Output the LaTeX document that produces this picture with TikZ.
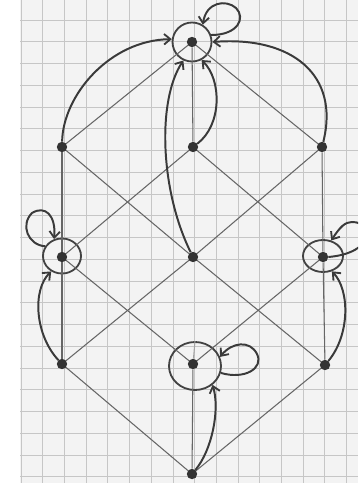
\documentclass[tikz,border=0pt]{standalone}
\usetikzlibrary{arrows.meta,shapes.geometric}
\definecolor{paperc}{HTML}{F3F3F3}
\definecolor{gridc}{HTML}{C6C6C6}
\definecolor{linec}{HTML}{666666}
\definecolor{arcc}{HTML}{3A3A3A}
\definecolor{dotc}{HTML}{333333}
\definecolor{ringc}{HTML}{424242}
\begin{document}
\begin{tikzpicture}[x=0.05cm,y=-0.05cm,
  dot/.style={circle,fill=dotc,inner sep=0pt,minimum size=0.52cm},
  ring/.style={draw=ringc,line width=2.6pt,inner sep=0pt},
  edgeline/.style={draw=linec,line width=1.5pt},
  curvearrow/.style={draw=arcc,line width=2.8pt,-{Straight Barb[length=9pt,width=15pt,line width=2.6pt]}},
  gridline/.style={draw=gridc,line width=0.9pt}]
\useasboundingbox (0,0) rectangle (358,483);
\clip (0,0) rectangle (358,483);
% paper and grid
\fill[white] (0,0) rectangle (358,483);
\fill[paperc] (20,0) rectangle (358,483);
\foreach \i in {0,...,15} \draw[gridline] ({21+21.7*\i},0) -- ({21+21.7*\i},483);
\foreach \j in {0,...,21} \draw[gridline] (20,{20+21.75*\j}) -- (358,{20+21.75*\j});
% rings
\node[ring,circle,minimum size=1.95cm] (Tr) at (192,42) {};
\node[ring,ellipse,minimum width=1.9cm,minimum height=1.75cm] (MLr) at (62,256) {};
\node[ring,ellipse,minimum width=2cm,minimum height=1.6cm] (MRr) at (323,256) {};
\node[ring,ellipse,minimum width=2.6cm,minimum height=2.4cm] (LMr) at (195,366) {};
% dots
\node[dot] (T) at (192,42) {};
\node[dot] (UL) at (62,147) {};
\node[dot] (UM) at (193,147) {};
\node[dot] (UR) at (322,147) {};
\node[dot] (ML) at (62,257) {};
\node[dot] (C) at (193,257) {};
\node[dot] (MR) at (323,257) {};
\node[dot] (LL) at (62,364) {};
\node[dot] (LM) at (193,364) {};
\node[dot] (LR) at (325,365) {};
\node[dot] (B) at (192,474) {};
% lattice edges
\foreach \a/\b in {T/UL,T/UM,T/UR,UL/ML,UL/C,UM/ML,UM/MR,UR/C,UR/MR,
                   ML/LL,ML/LM,C/LL,C/LR,MR/LM,MR/LR,LL/B,LM/B,LR/B}
  \draw[edgeline] (\a) -- (\b);
\draw[edgeline,draw=linec!60] (LM) -- (LMr.north);
% curved arrows
\draw[curvearrow] (UL) .. controls (63,95) and (110,40) .. (Tr.172);
\draw[curvearrow] (UR) .. controls (340,75) and (292,36) .. (Tr.0);
\draw[curvearrow] (C) .. controls (160,190) and (157,100) .. (Tr.245);
\draw[curvearrow] (UM) .. controls (222,125) and (222,80) .. (Tr.-62);
\draw[curvearrow] (LL) .. controls (35,335) and (32,290) .. (MLr.235);
\draw[curvearrow] (LR) .. controls (350,335) and (350,290) .. (MRr.-60);
\draw[curvearrow] (B) .. controls (212,450) and (220,410) .. (LMr.-47);
% self loops
\draw[curvearrow] (Tr.20) .. controls (238,35) and (246,18) .. (236,8)
  .. controls (226,-1) and (206,2) .. (Tr.58);
\draw[curvearrow] (MLr.150) .. controls (28,245) and (20,225) .. (32,213)
  .. controls (45,205) and (56,215) .. (MLr.115);
\draw[curvearrow] (MR.east) .. controls (375,253) and (375,222) .. (352,222)
  .. controls (345,222) and (340,227) .. (MRr.62);
\draw[curvearrow] (LMr.-15) .. controls (245,380) and (264,368) .. (257,354)
  .. controls (250,340) and (232,342) .. (LMr.20);
\end{tikzpicture}
\end{document}
